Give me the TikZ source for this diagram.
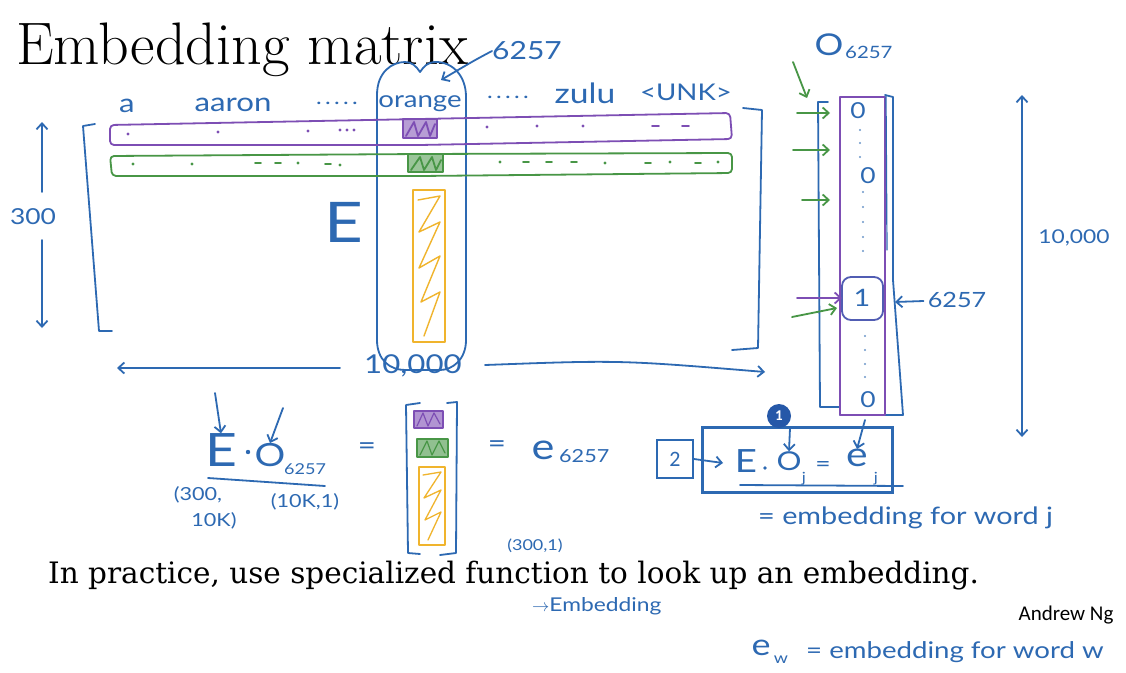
\documentclass[tikz,border=0pt]{standalone}
\usepackage{fontspec}
\usetikzlibrary{arrows.meta}
\newfontfamily\hand[FakeStretch=1.2]{Lato}
\newfontfamily\slidesans{Carlito}
\newfontfamily\slideserif{DejaVu Serif}
\definecolor{ink}{RGB}{45,105,178}
\definecolor{inkp}{RGB}{125,78,180}
\definecolor{inkg}{RGB}{72,150,70}
\definecolor{inko}{RGB}{240,180,45}
\definecolor{badge}{RGB}{38,88,168}
\begin{document}
\begin{tikzpicture}[x=1pt,y=-1pt,
  pen/.style={line width=1.8pt, line cap=round, line join=round},
  bpen/.style={pen, draw=ink},
  ppen/.style={pen, draw=inkp},
  gpen/.style={pen, draw=inkg},
  orpen/.style={pen, draw=inko},
  harr/.style={-{Straight Barb[length=6pt,width=11pt]}},
  htext/.style={text=ink, inner sep=0pt, font=\hand\fontsize{#1}{#1}\selectfont},
  htext/.default=24,
  dotp/.style={fill=inkp, draw=none},
  dotg/.style={fill=inkg, draw=none},
  dotb/.style={fill=ink!70, draw=none},
]
\useasboundingbox (0,0) rectangle (1126,672);
\fill[white] (0,0) rectangle (1126,672);

% ---------- title
\node[anchor=base west, inner sep=0pt, font=\fontsize{60}{64}\selectfont] (title) at (16,64) {Embedding matrix};

% ---------- column oval for orange
\draw[bpen] (377,340) -- (377,95) .. controls (377,72) and (392,62) .. (405,62)
  .. controls (412,62) and (416,66) .. (420,72) .. controls (424,66) and (428,62) .. (436,62)
  .. controls (452,62) and (466,75) .. (466,97) -- (466,340)
  .. controls (466,360) and (452,370) .. (440,370) -- (405,370)
  .. controls (390,370) and (377,360) .. (377,340);
\coordinate (colTop) at (441,80);
\node[htext=25] (lbl6257) at (527,51) {6257};
\draw[bpen,harr] (lbl6257.west) .. controls (475,60) .. (colTop);

% ---------- word labels
\node[htext=26] (wa) at (127,106) {a};
\node[htext=26] (waaron) at (233,105) {aaron};
\node[htext=20] (wdots1) at (337,103) {.\,.\,.\,.\,.};
\node[htext=23] (worange) at (420,104) {orange};
\node[htext=20] (wdots2) at (508,97) {.\,.\,.\,.\,.};
\node[htext=28] (wzulu) at (585,93) {zulu};
\node[htext=23] (wunk) at (686,92) {<UNK>};

% ---------- rows
\draw[ppen, rounded corners=4pt] (110,125) -- (420,119) -- (730,113) -- (732,139) -- (420,145) -- (110,145) -- cycle;
\draw[gpen, rounded corners=4pt] (110,156) -- (420,154) -- (732,153) -- (732,173) -- (420,176) -- (112,176) -- cycle;
\foreach \x/\y in {128/134,218/132,308/131,340/130,347/130,354/130,487/127,537/126,583/126}
  \fill[dotp] (\x,\y) circle (1.6pt);
\foreach \x/\y in {652/126,682/126}
  \draw[ppen, line width=1.6pt] (\x,\y) -- ++(7,0);
\foreach \x/\y in {133/164,192/164,298/163,340/165,605/163,670/162,718/162,500/162}
  \fill[dotg] (\x,\y) circle (1.6pt);
\foreach \x/\y in {255/163,275/163,325/164,523/162,546/162,571/162,645/163,695/163}
  \draw[gpen, line width=1.6pt] (\x,\y) -- ++(6,0);

% ---------- highlighted column blocks
\filldraw[ppen, fill=inkp, fill opacity=0.55] (403,119) rectangle (437,138);
\draw[ppen] (406,136) -- (414,122) -- (418,136) -- (426,122) -- (430,136) -- (435,124);
\filldraw[gpen, fill=inkg, fill opacity=0.55] (408,154) rectangle (443,172);
\draw[gpen] (411,170) -- (420,157) -- (424,170) -- (432,157) -- (436,170) -- (441,160);
\draw[orpen] (413,190) rectangle (445,342);
\draw[orpen, line width=1.4pt] (418,200) -- (440,196) -- (419,232) -- (440,222) -- (419,268) -- (440,256) -- (421,302) -- (440,292) -- (424,336);

\node[htext=56] (bigE) at (344,222) {E};

% ---------- left bracket and 300
\draw[bpen] (95,124) -- (83,126) -- (99,331) -- (112,331);
\node[htext=22] (n300) at (33,217) {300};
\coordinate (up300) at (42,122);
\coordinate (dn300) at (42,328);
\draw[bpen,harr] (42,192) -- (up300);
\draw[bpen,harr] (42,240) -- (dn300);

% ---------- 10,000 horizontal
\node[htext=26] (n10k) at (413,366) {10,000};
\coordinate (left10k) at (117,368);
\coordinate (right10k) at (765,372);
\draw[bpen,harr] (n10k.west) ++(-24,2) -- (left10k);
\draw[bpen,harr] (485,365) .. controls (620,360) .. (right10k);

% ---------- right bracket
\draw[bpen] (743,108) -- (762,110) -- (758,348) -- (732,350);

% ---------- one-hot vector
\node[htext=30] (oLbl) at (829,45) {O};
\node[htext=17, anchor=west] (oSub) at (845,52) {6257};
\coordinate (vecTop) at (807,98);
\draw[gpen,harr] (793,62) -- (vecTop);
\draw[bpen] (828,102) -- (818,102) -- (820,407) -- (840,407);
\draw[bpen] (885,95) -- (893,97) -- (893,280) -- (903,415) -- (840,415);
\draw[ppen] (840,97) rectangle (885,415);
\draw[bpen, line width=1.2pt] (886,95) -- (887,250);
\node[htext=22] (v0a) at (858,111) {0};
\node[htext=22] (v0b) at (868,176) {0};
\node[htext=24] (v1) at (862,298) {1};
\node[htext=22] (v0c) at (868,400) {0};
\draw[draw=inkp!45!ink, line width=1.8pt, rounded corners=9pt] (842,277) rectangle (883,320);
\foreach \y in {130,143,157} \fill[dotb] (860,\y) circle (1.2pt);
\foreach \y in {192,207,222,237,251} \fill[dotb] (863,\y) circle (1.2pt);
\foreach \y in {336,350,364,377} \fill[dotb] (865,\y) circle (1.2pt);
\coordinate (va1) at (830,113);
\coordinate (va2) at (830,150);
\coordinate (va3) at (830,200);
\coordinate (va4) at (842,298);
\coordinate (va5) at (837,308);
\draw[gpen,harr] (797,113) -- (va1);
\draw[gpen,harr] (793,150) -- (va2);
\draw[gpen,harr] (802,200) -- (va3);
\draw[ppen,harr] (797,298) -- (va4);
\draw[gpen,harr] (792,317) -- (va5);
\node[htext=21] (idx6257) at (957,300) {6257};
\draw[bpen,harr] (idx6257.west) ++(-4,1) -- (895,302);

% ---------- 10,000 vertical
\coordinate (vTop) at (1022,95);
\coordinate (vBot) at (1022,437);
\draw[bpen,{Straight Barb[length=6pt,width=11pt]}-{Straight Barb[length=6pt,width=11pt]}] (vTop) -- (vBot);
\node[htext=19] (nv10k) at (1074,238) {10,000};

% ---------- bottom-left formula
\node[htext=46] (fE) at (221,450) {E};
\fill[ink] (248,452) circle (2.2pt);
\node[htext=32] (fO) at (270,455) {O};
\node[htext=15, anchor=west] (fSub) at (284,469) {6257};
\draw[bpen,harr] (215,393) -- (fE.north);
\draw[bpen,harr] (283,408) -- (fO.north);
\draw[bpen] (208,478) -- (325,486);
\node[htext=18] (dimE1) at (198,495) {(300,};
\node[htext=18] (dimE2) at (214,521) {10K)};
\node[htext=18] (dimO) at (305,502) {(10K,1)};
\node[htext=26] (eq1) at (367,449) {=};

% result column vector
\draw[bpen] (420,403) -- (406,405) -- (408,553) -- (420,554);
\draw[bpen] (447,403) -- (457,402) -- (456,553) -- (440,555);
\filldraw[ppen, fill=inkp, fill opacity=0.6] (414,411) rectangle (443,428);
\draw[ppen, line width=1.2pt] (417,426) -- (423,413) -- (428,426) -- (434,413) -- (440,424);
\filldraw[gpen, fill=inkg, fill opacity=0.6] (417,439) rectangle (448,457);
\draw[gpen, line width=1.2pt] (420,455) -- (427,441) -- (432,455) -- (439,441) -- (445,453);
\draw[orpen] (419,467) rectangle (445,545);
\draw[orpen, line width=1.3pt] (423,475) -- (441,472) -- (424,498) -- (441,490) -- (425,520) -- (441,512) -- (428,540);
\node[htext=15] (dimR) at (535,546) {(300,1)};

\node[htext=26] (eq2) at (497,447) {=};
\node[htext=36] (fe) at (543,450) {e};
\node[htext=18, anchor=west] (feSub) at (559,456) {6257};

% ---------- boxed general formula
\node[draw=ink, line width=2pt, minimum width=36pt, minimum height=38pt, inner sep=0pt,
      text=ink, font=\slidesans\fontsize{22}{22}\selectfont] (box2) at (675,459) {2};
\node[draw=ink, line width=3pt, minimum width=190pt, minimum height=65pt, inner sep=0pt] (bigbox) at (797,459.5) {};
\coordinate (box2tip) at (723,463);
\draw[bpen,harr] (box2.east) -- (box2tip);
\node[htext=32] (gE) at (746,461) {E};
\fill[ink] (765,468) circle (1.8pt);
\node[htext=26] (gO) at (789,461) {O};
\node[htext=14] (gOj) at (804,479) {j};
\node[htext=22] (gEq) at (823,466) {=};
\node[htext=34] (ge) at (857,458) {e};
\node[htext=14] (gej) at (876,479) {j};
\draw[bpen] (740,485) -- (903,486);
\node[circle, fill=badge, text=white, minimum size=24pt, inner sep=0pt,
      font=\slidesans\bfseries\fontsize{15}{15}\selectfont] (badge1) at (779,416) {1};
\draw[bpen,harr] (790,428) -- (gO.north);
\coordinate (vecBot) at (865,420);
\draw[bpen,harr] (vecBot) -- (ge.north);
\node[htext=24, anchor=west] (embj) at (758,518) {= embedding for word j};

% ---------- bottom text
\node[anchor=base west, inner sep=0pt, font=\slideserif\fontsize{29.5}{30}\selectfont] (practice) at (48,583)
  {In practice, use specialized function to look up an embedding.};
\node[htext=19, anchor=west] (embfn) at (532,606) {$\rightarrow$Embedding};
\node[inner sep=0pt, font=\slidesans\fontsize{21}{21}\selectfont] (author) at (1066,615) {Andrew Ng};
\node[htext=30] (ew) at (761,648) {e};
\node[htext=15] (ewSub) at (781,660) {w};
\node[htext=23, anchor=west] (ewdef) at (806,652) {= embedding for word w};
\end{tikzpicture}
\end{document}
